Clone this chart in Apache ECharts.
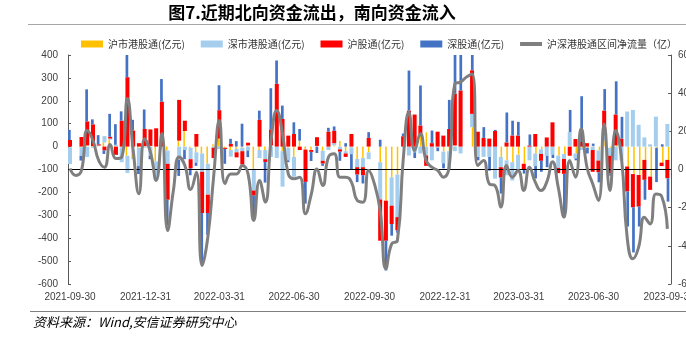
<!DOCTYPE html>
<html><head><meta charset="utf-8">
<script src="https://cdn.jsdelivr.net/npm/echarts@6/dist/echarts.min.js"></script>
<style>html,body{margin:0;padding:0;background:#fff}#c{width:686px;height:337px}</style>
</head><body><div id="c"></div>
<script>
// weekly observations, first week 2021-09-30, 105 weeks (null = holiday week with no trading)
const firstWeek = '2021-09-30';
const weekCount = 105;
const axisStart = '2021-09-30';
const axisEnd = '2023-09-30';
const quarterLabels = ['2021-09-30','2021-12-31','2022-03-31','2022-06-30','2022-09-30','2022-12-31','2023-03-31','2023-06-30','2023-09-30'];

// 沪市港股通(亿元)
const shHK = [-3,null,-3,5,2,2,18,30,3,-3,
  -40,-50,-5,2,3,-65,-15,-17,null,26,
  68,-5,-25,-30,-75,10,35,-5,-15,-10,
  -5,5,-97,-15,-15,5,0,-20,-5,-45,
  26,-13,-15,3,-18,0,5,25,-20,-3,
  -54,-50,-25,null,-68,-236,-134,-122,0,0,
  0,52,62,0,0,-22,-20,5,0,null,
  85,0,0,0,0,-45,-60,-68,-36,-75,
  0,-30,-12,0,0,-39,-32,3,-30,-5,
  -5,3,-17,26,-5,5,0,-87,-120,-124,
  -58,-131,-5,-70,-58];
// 深市港股通(亿元)
const szHK = [-73,null,-38,-45,-5,3,28,5,5,-65,
  -75,-5,-80,-5,-40,-80,0,-58,null,-58,
  -15,-50,-45,-80,-135,-5,-10,0,-29,-15,
  -15,-17,-95,-35,-40,-45,-50,-155,-55,-87,
  0,0,0,0,-44,-15,10,-12,-10,-30,
  -36,-40,-30,null,-163,0,-124,-186,0,-39,
  -25,-30,-39,-60,-5,-51,-80,-20,-30,null,
  58,-45,-45,-45,-140,-45,-65,-80,-65,0,
  -60,-55,-20,-40,-35,-54,-22,60,-22,-10,
  0,-15,-44,29,-35,-60,-60,153,160,95,
  40,10,131,0,99];
// 沪股通(亿元)
const shConnect = [29,null,42,105,95,5,-17,8,-36,113,
  303,70,15,75,72,80,196,-157,null,178,
  45,-40,55,-180,-80,-45,124,-5,12,-22,
  -58,12,-22,117,-12,70,274,121,48,55,
  -15,-141,-8,38,-12,65,54,-10,-15,55,
  -32,-35,38,null,-180,-175,-80,-58,45,157,
  140,40,-45,15,65,48,77,226,245,null,
  190,65,38,35,68,-45,18,48,48,-26,
  5,55,-30,40,106,-23,-65,-40,33,20,
  15,-95,-51,102,-77,135,35,-109,-145,-138,
  -87,-58,0,-15,-80];
// 深股通(亿元)
const szConnect = [44,null,-20,140,22,40,-15,100,90,41,
  110,47,-35,85,-15,0,99,-112,null,-70,
  -40,-30,-14,-220,-95,0,109,-65,22,24,
  100,-29,-109,40,-90,180,102,58,-8,51,
  51,-95,-40,-28,-10,17,19,-40,15,-65,
  -33,-36,25,null,30,-130,-51,-10,12,175,
  -25,175,0,55,-15,-22,127,250,200,null,
  160,-15,47,-60,5,-70,131,65,60,-17,
  48,-54,-48,-50,-15,0,-190,97,-8,200,
  -25,10,-44,94,-10,145,95,-153,-197,-87,
  -87,0,-150,10,-102];
// 沪深港股通区间净流量（亿）
const netFlow = [5,-31,-5,204,152,47,12,131,58,65,
  372,100,-127,161,91,-58,189,-320,-110,65,
  21,-105,-14,-503,-354,-40,257,-75,-23,-23,
  21,-23,-267,-58,-171,152,309,187,-23,-49,
  -40,-232,-130,3,-84,65,82,-40,-40,-66,
  -162,-171,-5,-75,-215,-520,-390,-372,47,300,
  100,187,47,12,-5,-40,12,449,458,484,
  501,21,47,-75,-84,-197,21,-40,-5,-110,
  12,-66,-110,-66,40,-93,-250,47,-40,213,
  12,-75,-162,239,-110,204,65,-355,-468,-407,
  -250,-285,-128,-140,-311];

function toTime(s){const p=s.split('-').map(Number);return new Date(p[0],p[1]-1,p[2]).getTime();}
const t0 = toTime(firstWeek);
const weeks = [];
for (let k=0;k<weekCount;k++){const d=new Date(t0);d.setDate(d.getDate()+7*k);weeks.push(d.getTime());}
const pair = arr => weeks.map((t,i)=>[t, arr[i]]);

const xMin = toTime(axisStart), xMax = toTime(axisEnd);
const labelFont = {fontFamily:'Liberation Sans, Arial, sans-serif', fontSize:10, color:'#404040'};
function xAxisDef(visible){
  return {type:'time', min:xMin, max:xMax, show:visible, gridIndex:0,
    axisLine:{show:false}, axisTick:{show:false}, splitLine:{show:false},
    axisLabel:{show:visible, ...labelFont, margin:8, hideOverlap:false,
      customValues: quarterLabels.map(toTime), formatter:'{yyyy}-{MM}-{dd}'}};
}

const chart = echarts.init(document.getElementById('c'), null, {renderer:'canvas'});
chart.setOption({
  animation:false,
  backgroundColor:'#fff',
  grid:{left:68,right:15,top:55,bottom:53,containLabel:false,outerBoundsMode:'none'},
  legend:{left:81, top:39, width:640, padding:0, itemWidth:22, itemHeight:7, itemGap:16,
    textStyle:{fontSize:10, color:'#333', fontFamily:'Noto Sans CJK SC'},
    data:[{name:'沪市港股通(亿元)',icon:'rect'},{name:'深市港股通(亿元)',icon:'rect'},
          {name:'沪股通(亿元)',icon:'rect'},{name:'深股通(亿元)',icon:'rect'},
          {name:'沪深港股通区间净流量（亿）',icon:'path://M0,0H22V4H0Z'}]},
  xAxis:[xAxisDef(true), xAxisDef(false), xAxisDef(false)],
  yAxis:[
    {type:'value', min:-600, max:400, interval:100, position:'left',
     axisLine:{show:true, lineStyle:{color:'#595959'}}, axisTick:{show:true, inside:true, length:3, lineStyle:{color:'#595959'}},
     splitLine:{show:false}, axisLabel:{...labelFont, margin:10, showMinLabel:true, showMaxLabel:true}},
    {type:'value', min:-600, max:600, interval:200, position:'right',
     axisLine:{show:true, lineStyle:{color:'#595959'}}, axisTick:{show:true, inside:true, length:3, lineStyle:{color:'#595959'}},
     splitLine:{show:false}, axisLabel:{...labelFont, margin:7, showMinLabel:true, showMaxLabel:true}}
  ],
  series:[
    {name:'沪市港股通(亿元)', type:'bar', xAxisIndex:1, yAxisIndex:0, stack:'flow', barWidth:1.5,
     itemStyle:{color:'#FFC000'}, data:pair(shHK)},
    {name:'深市港股通(亿元)', type:'bar', xAxisIndex:0, yAxisIndex:0, stack:'flow', barWidth:4,
     itemStyle:{color:'#A5CEEE'}, data:pair(szHK)},
    {name:'沪股通(亿元)', type:'bar', xAxisIndex:0, yAxisIndex:0, stack:'flow', barWidth:4,
     itemStyle:{color:'#FF0000'}, data:pair(shConnect)},
    {name:'深股通(亿元)', type:'bar', xAxisIndex:2, yAxisIndex:0, stack:'flow', barWidth:2.7,
     itemStyle:{color:'#4472C4'}, data:pair(szConnect)},
    {name:'沪深港股通区间净流量（亿）', type:'line', xAxisIndex:0, yAxisIndex:1, smooth:0.5,
     symbol:'none', lineStyle:{color:'#7F7F7F', width:3}, itemStyle:{color:'#7F7F7F'}, z:5,
     data:pair(netFlow),
     markLine:{silent:true, symbol:'none', label:{show:false}, animation:false,
       lineStyle:{color:'#000', width:1, type:'solid'}, data:[{yAxis:0}]}}
  ],
  graphic:[
    {type:'text', x:312, y:13, style:{text:'图7.近期北向资金流出，南向资金流入', fill:'#000',
      fontSize:17, fontWeight:'bold', fontFamily:'Noto Sans CJK SC', textAlign:'center', textVerticalAlign:'middle'}},
    {type:'line', shape:{x1:28,y1:24.5,x2:686,y2:24.5}, style:{stroke:'#a6a6a6', lineWidth:1}},
    {type:'line', shape:{x1:30,y1:311.5,x2:686,y2:311.5}, style:{stroke:'#7f7f7f', lineWidth:1}},
    {type:'text', x:33, y:322, style:{text:'资料来源：Wind,安信证券研究中心', fill:'#000',
      fontSize:13, fontStyle:'italic', fontFamily:'Noto Sans CJK SC', textVerticalAlign:'middle'}}
  ]
});
</script></body></html>
